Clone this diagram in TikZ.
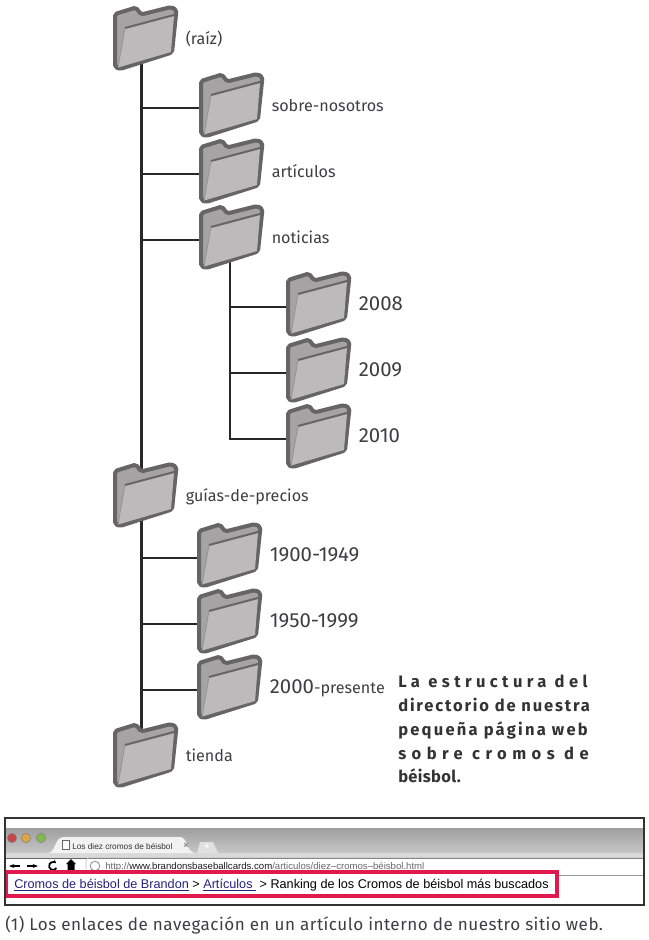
\documentclass[tikz,border=0pt]{standalone}
\usepackage{fontspec}
\setmainfont{Fira Sans}
\newfontfamily\webfont{Liberation Sans}
\usetikzlibrary{arrows.meta}

\newcommand{\yr}{\fontsize{15.3}{16}\selectfont}

\tikzset{
    treeline/.style={line width=1.6pt, draw=treegray},
    foldbox/.style={minimum width=48.75pt, minimum height=54pt, inner sep=0pt},
    foldlabel/.style={anchor=base west, inner sep=0pt, text=labelgray, font=\fontsize{12.1}{14}\selectfont},
    folder/.pic={
        \begin{scope}[shift={(-32.5,-36)}]
            \draw[fill=foldback, draw=foldedge, line width=3pt, rounded corners=1.5pt, line join=round]
                (2,9) -- (23,2.5) -- (28,9.5) -- (58,2) -- (63.5,5) -- (59,47.5) -- (7,64) -- (2,62) -- cycle;
            \fill[foldfront] (12,23) -- (61,10) -- (58,47) -- (5,62.5) -- cycle;
            \draw[draw=foldedge, line width=1.5pt] (61,10) -- (12,23);
            \draw[draw=foldedge!70, line width=0.6pt] (12,23) -- (5,62.5);
        \end{scope}
    },
}

\begin{document}
\begin{tikzpicture}[x=0.75pt, y=-0.75pt]

    % Colors
    \definecolor{treegray}{RGB}{40,40,40}
    \definecolor{foldback}{RGB}{165,163,164}
    \definecolor{foldfront}{RGB}{188,186,187}
    \definecolor{foldedge}{RGB}{102,100,101}
    \definecolor{labelgray}{RGB}{62,62,66}
    \definecolor{crumbred}{RGB}{224,26,79}
    \definecolor{crumbblue}{RGB}{35,35,125}
    \definecolor{btnred}{RGB}{200,70,70}
    \definecolor{btnorange}{RGB}{222,165,70}
    \definecolor{btngreen}{RGB}{130,185,75}

    \useasboundingbox (0,0) rectangle (649,940);

    % Folder boxes and their labels
    \foreach \name/\x/\y/\txt in {raiz/113/5/(raíz), sobre/199/72/sobre-nosotros, articulos/199/138/artículos,
        noticias/199/204/noticias, y2008/286/271/{\yr 2008}, y2009/286/337/{\yr 2009}, y2010/286/403/{\yr 2010},
        guias/113/462/guías-de-precios, y1900/197/522/{\yr 1900-1949}, y1950/197/588/{\yr 1950-1999},
        y2000/197/654/{{\yr 2000}-presente}, tienda/113/722/tienda} {
        \node[foldbox] (\name) at (\x+32.5,\y+36) {};
        \node[foldlabel] (\name label) at (\x+72.5,\y+39.5) {\txt};
    }

    % Trunk lines
    \coordinate (trunk) at ([xshift=-3pt]raiz.center);
    \coordinate (subtrunk) at ([xshift=-1pt]noticias.center);
    \draw[treeline] (trunk) -- (trunk |- tienda.center);
    \draw[treeline] (subtrunk) -- (subtrunk |- y2010.west) -- (y2010.west);

    % Branches
    \foreach \name in {sobre,articulos,noticias,y1900,y1950,y2000} {
        \draw[treeline] (trunk |- \name.west) -- (\name.west);
    }
    \foreach \name in {y2008,y2009} {
        \draw[treeline] (subtrunk |- \name.west) -- (\name.west);
    }

    % Folders on top of the lines
    \foreach \name in {raiz,sobre,articulos,noticias,y2008,y2009,y2010,guias,y1900,y1950,y2000,tienda} {
        \pic at (\name) {folder};
    }

    % Side note
    \node[anchor=north west, inner sep=0pt, align=left, text=black!80, font=\fontsize{12.4}{17.8}\selectfont\bfseries] (note) at (398,675) {%
        {\addfontfeatures{LetterSpace=26.6}La estructura del}\\
        {\addfontfeatures{LetterSpace=11}directorio de nuestra}\\
        {\addfontfeatures{LetterSpace=13.4}pequeña página web}\\
        {\addfontfeatures{LetterSpace=33}sobre cromos de}\\
        {\addfontfeatures{LetterSpace=2}béisbol.}};

    % Browser window
    \shade[top color=black!38, bottom color=black!22] (5,828) rectangle (644,853);
    \fill[black!15] (5,853) rectangle (644,858);
    \draw[black!40, line width=0.5pt] (5,875) -- (644,875);
    \draw[black!60, line width=0.5pt] (5,858) -- (644,858);

    % Window buttons
    \foreach \x/\col in {12/btnred, 26/btnorange, 41/btngreen} {
        \draw[black!50, fill=\col, line width=0.4pt] (\x,838) circle (3.5pt);
    }

    % Tabs
    \fill[black!5] (48,853) .. controls (56,853) and (54,837) .. (64,837) -- (180,837) .. controls (188,837) and (186,853) .. (196,853) -- cycle;
    \fill[black!12] (197,853) -- (200,842) -- (213,842) -- (218,853) -- cycle;
    \node[text=white, inner sep=0pt, font=\webfont\bfseries\fontsize{7}{8}\selectfont] (plustab) at (207,847) {+};
    \draw[black!60, fill=white, line width=0.4pt] (62,840) rectangle (69,849);
    \node[anchor=base west, inner sep=0pt, text=black!80, font=\webfont\fontsize{6.2}{8}\selectfont] (tabtext) at (72,849) {Los diez cromos de béisbol};
    \node[text=black!45, inner sep=0pt, font=\webfont\bfseries\fontsize{7}{8}\selectfont] (tabclose) at (186,846) {×};

    % Toolbar
    \draw[line width=1.4pt, -{Stealth[length=4pt]}] (20,866) -- (9,866);
    \draw[line width=1.4pt, -{Stealth[length=4pt]}] (27,866) -- (38,866);
    \draw[line width=1.3pt, -{Stealth[length=3pt]}] (56.5,868) arc (30:320:4);
    \fill (71,859) -- (76,864) -- (74.5,864) -- (74.5,871) -- (67.5,871) -- (67.5,864) -- (66,864) -- cycle;
    \draw[black!25, line width=0.4pt] (86,871) -- (86,862) [rounded corners=2pt] -- (86,858) -- (644,858);
    \draw[black!45, line width=0.6pt] (95,866) circle (3.6pt);
    \node[anchor=base west, inner sep=0pt, text=black!60, font=\webfont\fontsize{7.2}{8}\selectfont] (urltext) at (105,869) {http://\textcolor{black!90}{www.brandonsbaseballcards.com}/articulos/diez–cromos–béisbol.html};

    % Breadcrumb trail
    \fill[white] (6,872) rectangle (557,896);
    \draw[crumbred, line width=2.5pt] (6,872) rectangle (557,896);
    \node[anchor=base west, inner sep=0pt, font=\webfont\fontsize{9.5}{12}\selectfont] (crumbs) at (14,888) {\textcolor{crumbblue}{\underline{Cromos de béisbol de Brandon}} > \textcolor{crumbblue}{\underline{Artículos }} > Ranking de los Cromos de béisbol más buscados};

    % Frame
    \draw[black!80, line width=0.9pt] (5,818) rectangle (644,905);

    % Caption
    \node[anchor=base west, inner sep=0pt, text=labelgray, font=\fontsize{12.8}{14}\selectfont\addfontfeatures{LetterSpace=2.9}] (caption) at (5,930) {(1) Los enlaces de navegación en un artículo interno de nuestro sitio web.};

\end{tikzpicture}
\end{document}
